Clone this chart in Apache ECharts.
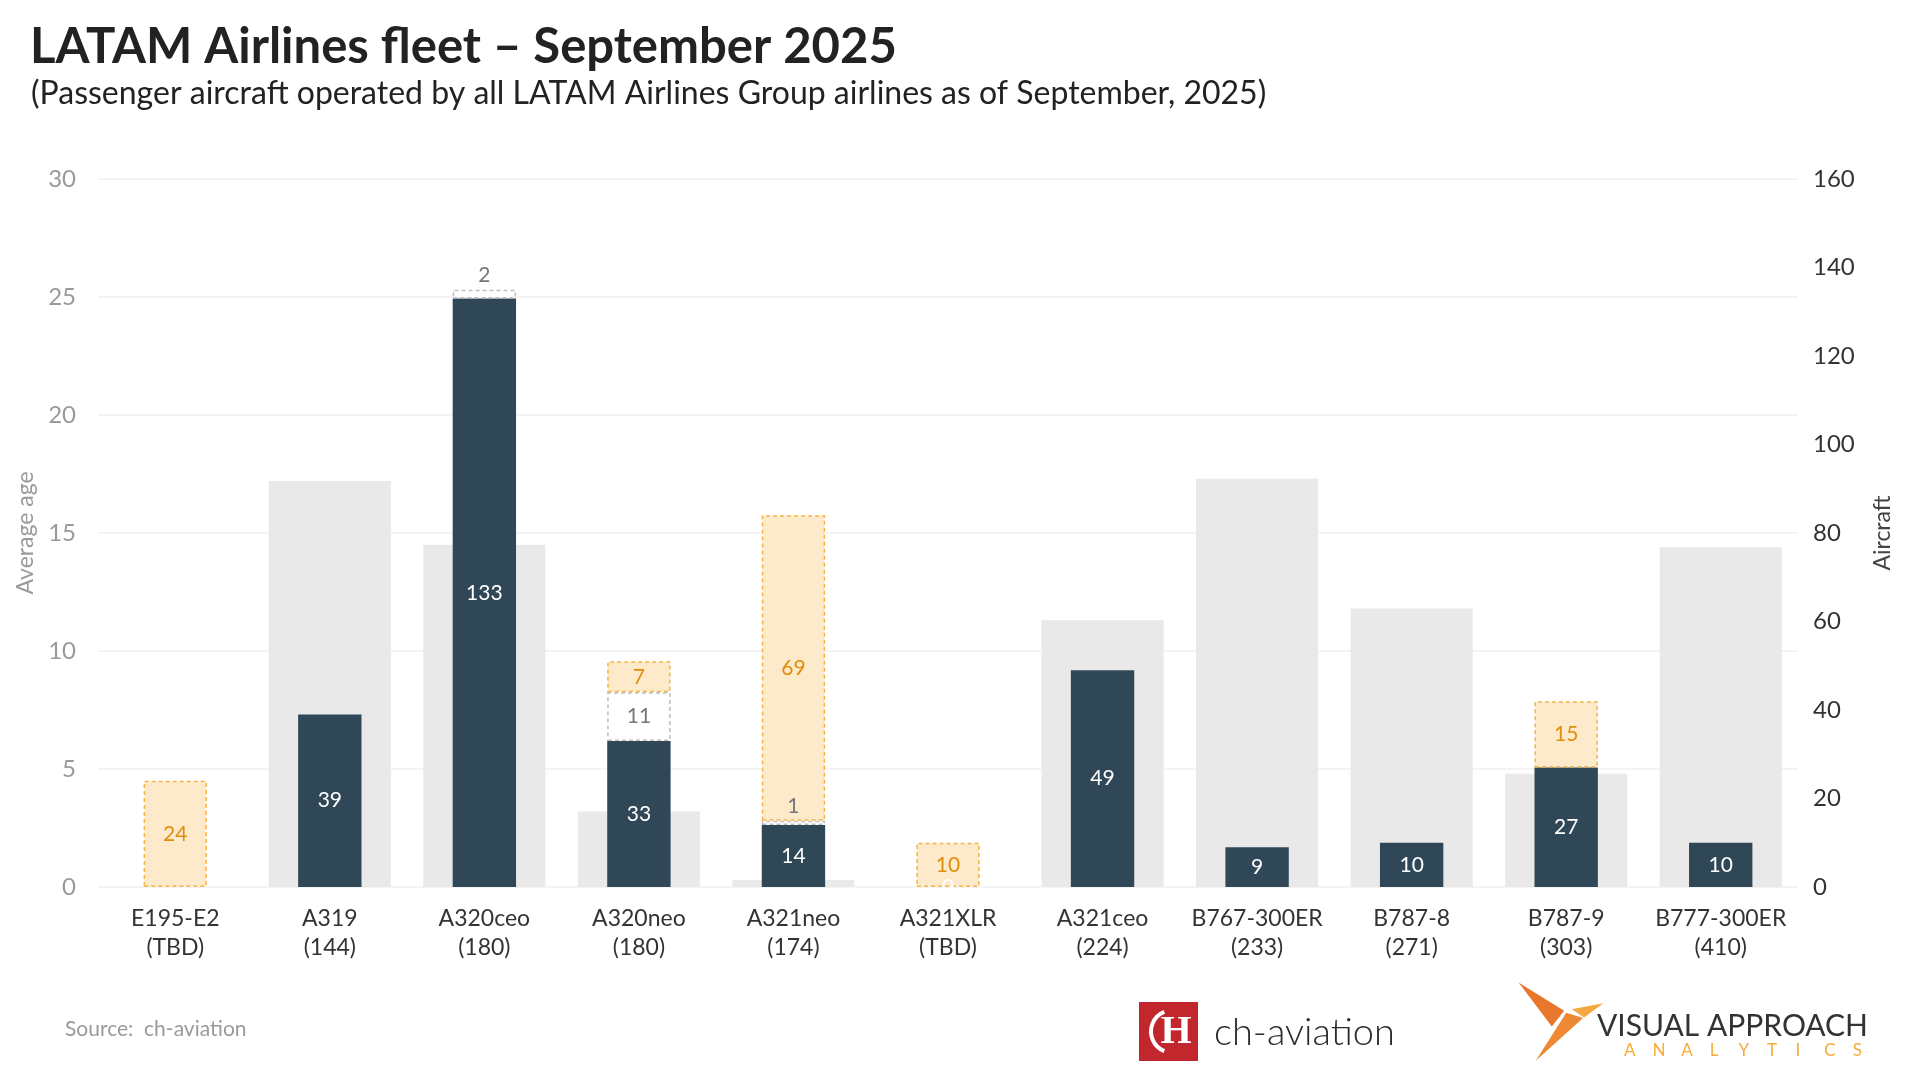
<!DOCTYPE html>
<html>
<head>
<meta charset="utf-8">
<title>LATAM Airlines fleet – September 2025</title>
<script src="https://cdn.jsdelivr.net/npm/echarts@6/dist/echarts.min.js"></script>
<style>
  html, body { margin: 0; padding: 0; background: #ffffff; }
  #chart { width: 1920px; height: 1083px; }
</style>
</head>
<body>
<div id="chart"></div>
<script>
// ---- Data ----
const models = ['E195-E2', 'A319', 'A320ceo', 'A320neo', 'A321neo', 'A321XLR', 'A321ceo', 'B767-300ER', 'B787-8', 'B787-9', 'B777-300ER'];
const seats = ['TBD', '144', '180', '180', '174', 'TBD', '224', '233', '271', '303', '410'];
const averageAge = [null, 17.2, 14.5, 3.2, 0.3, null, 11.3, 17.3, 11.8, 4.8, 14.4];
const inService = [null, 39, 133, 33, 14, 0, 49, 9, 10, 27, 10];
const parked = [null, null, 2, 11, 1, null, null, null, null, null, null];
const onOrder = [24, null, null, 7, 69, 10, null, null, null, 15, null];
const ageTicks = [0, 5, 10, 15, 20, 25, 30];
const aircraftTicks = [0, 20, 40, 60, 80, 100, 120, 140, 160];

const categories = models.map((m, i) => m + '\n(' + seats[i] + ')');
const FONT = 'Lato, "Noto Sans", sans-serif';

const chart = echarts.init(document.getElementById('chart'), null, { renderer: 'canvas' });

// logo helper coordinates (decorative)
const va = (x, y) => [1510 + x * 0.343, 975 + y * 0.343];
const analyticsLetters = 'ANALYTICS'.split('').map((ch, i) => ({
  type: 'text', x: 1624 + i * 28.6, y: 1051,
  style: { text: ch, fill: '#f4ad3a', font: '17px ' + FONT, verticalAlign: 'middle' }
}));

const option = {
  animation: false,
  backgroundColor: '#ffffff',
  textStyle: { fontFamily: FONT },
  title: [
    {
      text: 'LATAM Airlines fleet – September 2025',
      left: 25, top: 14,
      textStyle: { fontFamily: FONT, fontSize: 49, fontWeight: 'bold', color: '#222222', lineHeight: 56 }
    },
    {
      text: '(Passenger aircraft operated by all LATAM Airlines Group airlines as of September, 2025)',
      left: 26, top: 70,
      textStyle: { fontFamily: FONT, fontSize: 32, fontWeight: 'normal', color: '#222222', lineHeight: 38 }
    }
  ],
  grid: { left: 98, right: 122, top: 179, bottom: 196, containLabel: false },
  xAxis: [
    {
      type: 'category', data: categories,
      axisLine: { show: false }, axisTick: { show: false },
      axisLabel: { color: '#333333', fontSize: 23, lineHeight: 29, margin: 17, fontFamily: FONT, interval: 0 }
    },
    {
      type: 'category', data: categories, show: false
    }
  ],
  yAxis: [
    {
      type: 'value', min: ageTicks[0], max: ageTicks[ageTicks.length - 1], interval: 5,
      name: 'Average age', nameLocation: 'middle', nameRotate: 90, nameGap: 56,
      nameTextStyle: { color: '#9a9a9a', fontSize: 23, fontFamily: FONT },
      axisLine: { show: false }, axisTick: { show: false },
      axisLabel: { color: '#9a9a9a', fontSize: 24, margin: 22, fontFamily: FONT },
      splitLine: { show: true, lineStyle: { color: '#f0f0f0', width: 1.5 } }
    },
    {
      type: 'value', min: aircraftTicks[0], max: aircraftTicks[aircraftTicks.length - 1], interval: 20,
      position: 'right',
      name: 'Aircraft', nameLocation: 'middle', nameRotate: 90, nameGap: 73,
      nameTextStyle: { color: '#444444', fontSize: 23, fontFamily: FONT },
      axisLine: { show: false }, axisTick: { show: false },
      axisLabel: { color: '#333333', fontSize: 24, margin: 15, fontFamily: FONT },
      splitLine: { show: false }
    }
  ],
  series: [
    {
      name: 'Average age', type: 'bar', xAxisIndex: 1, yAxisIndex: 0,
      data: averageAge, barWidth: '79%', z: 1,
      itemStyle: { color: '#e9e9e9' },
      emphasis: { disabled: true }, silent: true
    },
    {
      name: 'In service', type: 'bar', xAxisIndex: 0, yAxisIndex: 1, stack: 'fleet',
      data: inService, barWidth: '41%', z: 3,
      itemStyle: { color: '#2f4757' },
      label: { show: true, position: 'inside', color: '#ffffff', fontSize: 21, fontFamily: FONT },
      emphasis: { disabled: true }, silent: true
    },
    {
      name: 'Parked', type: 'bar', xAxisIndex: 0, yAxisIndex: 1, stack: 'fleet',
      data: parked.map(v => v == null ? null : {
        value: v,
        label: { position: v < 5 ? 'top' : 'inside', distance: 4 }
      }),
      barWidth: '41%', z: 3,
      itemStyle: { color: '#ffffff', borderColor: '#bdbdbd', borderWidth: 1.5, borderType: [4, 3] },
      label: { show: true, color: '#777777', fontSize: 21, fontFamily: FONT },
      emphasis: { disabled: true }, silent: true
    },
    {
      name: 'On order', type: 'bar', xAxisIndex: 0, yAxisIndex: 1, stack: 'fleet',
      data: onOrder, barWidth: '41%', z: 3,
      itemStyle: { color: '#fdeaca', borderColor: '#f5b445', borderWidth: 1.5, borderType: [4, 3] },
      label: { show: true, position: 'inside', color: '#e08e0b', fontSize: 21, fontFamily: FONT },
      emphasis: { disabled: true }, silent: true
    }
  ],
  graphic: [
    // Source
    {
      type: 'text', left: 65, top: 1019,
      style: { text: 'Source:  ch-aviation', fill: '#9a9a9a', font: '21px ' + FONT }
    },
    // ch-aviation logo
    { type: 'rect', shape: { x: 1139, y: 1002, width: 59, height: 59 }, style: { fill: '#c1272d' } },
    { type: 'arc', shape: { cx: 1172, cy: 1031.5, r: 21, startAngle: Math.PI * 0.62, endAngle: Math.PI * 1.38 }, style: { stroke: '#ffffff', lineWidth: 4, fill: null } },
    {
      type: 'text', x: 1176, y: 1032.5,
      style: { text: 'H', fill: '#ffffff', font: 'bold 40px "Liberation Serif", "DejaVu Serif", serif', align: 'center', verticalAlign: 'middle' }
    },
    {
      type: 'text', x: 1214, y: 1033,
      style: { text: 'ch-aviation', fill: '#2a2a2a', font: '300 38px ' + FONT, verticalAlign: 'middle' }
    },
    // Visual Approach Analytics logo
    { type: 'polygon', shape: { points: [va(25, 22), va(158, 104), va(122, 150)] }, style: { fill: '#e8772e' } },
    { type: 'polygon', shape: { points: [va(164, 110), va(213, 125), va(75, 250)] }, style: { fill: '#ee8833' } },
    { type: 'polygon', shape: { points: [va(180, 100), va(272, 82), va(216, 124)] }, style: { fill: '#f4a83f' } },
    {
      type: 'text', x: 1597, y: 1026,
      style: { text: 'VISUAL APPROACH', fill: '#333333', font: '30px ' + FONT, verticalAlign: 'middle' }
    }
  ].concat(analyticsLetters)
};

chart.setOption(option);
</script>
</body>
</html>
